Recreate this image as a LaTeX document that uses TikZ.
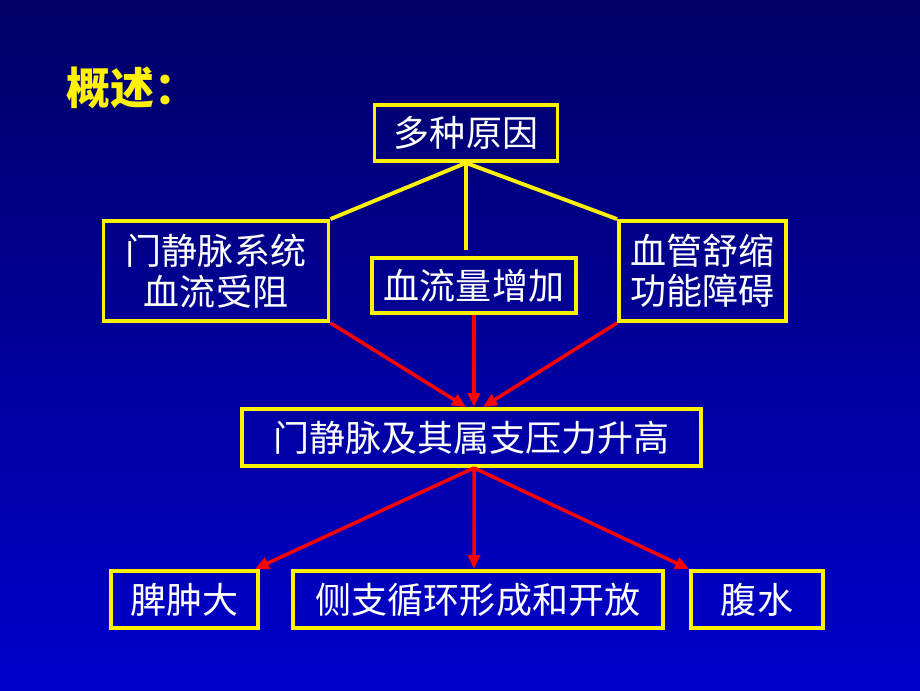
\documentclass[tikz,border=0pt]{standalone}
\usepackage{fontspec}
\newfontfamily\cjk{Noto Sans CJK SC}
\usepackage{tikz}
\usetikzlibrary{arrows.meta,positioning}
\definecolor{slidetop}{RGB}{0,0,102}
\definecolor{slidebottom}{RGB}{0,0,204}

\begin{document}
\begin{tikzpicture}[
            box/.style={rectangle, draw=yellow, line width=2.2pt, text=white,
            align=center, inner sep=0pt, font=\cjk\fontsize{20.5}{23}\selectfont},
            link/.style={yellow, line width=2.2pt},
            push/.style={red, line width=2pt, -{Triangle[length=0.28cm,width=0.24cm]}}]
            \fill[top color=slidetop, bottom color=slidebottom] (0,0) rectangle (18.4,13.8);
            \useasboundingbox (0,0) rectangle (18.4,13.8);

            \node (title) [anchor=west, text=yellow, font=\cjk\bfseries\fontsize{25}{28}\selectfont] at (1.2,12.04) {概述：};

            \node (cause) [box, minimum width=3.66cm, minimum height=1.12cm] at (9.32,11.14) {多种原因};
            \node (block) [box, minimum width=4.5cm, minimum height=2cm] at (4.32,8.38) {门静脉系统\\血流受阻};
            \node (flow) [box, minimum width=4.08cm, minimum height=1.1cm] at (9.48,8.09) {血流量增加};
            \node (disorder) [box, minimum width=3.34cm, minimum height=2cm] at (14.05,8.38) {血管舒缩\\功能障碍};
            \node (pressure) [box, minimum width=9.18cm, minimum height=1.14cm] at (9.43,5.05) {门静脉及其属支压力升高};
            \node (spleen) [box, minimum width=2.94cm, minimum height=1.14cm] at (3.69,1.81) {脾肿大};
            \node (collateral) [box, minimum width=7.4cm, minimum height=1.14cm] at (9.56,1.81) {侧支循环形成和开放};
            \node (ascites) [box, minimum width=2.64cm, minimum height=1.14cm] at (15.14,1.81) {腹水};

            \coordinate (flowtop) at (9.32,8.8);
            \draw[link] (cause.south) -- (block.north east);
            \draw[link] (cause.south) -- (flowtop);
            \draw[link] (cause.south) -- (disorder.north west);

            \draw[push] (block.south east) -- ([xshift=-0.11cm]pressure.north);
            \draw[push] (flow.south) -- ([xshift=0.05cm]pressure.north);
            \draw[push] (disorder.south west) -- ([xshift=0.23cm]pressure.north);

            \draw[push] ([xshift=0.05cm]pressure.south) -- ([xshift=-0.1cm]spleen.north east);
            \draw[push] ([xshift=0.05cm]pressure.south) -- ([xshift=-0.08cm]collateral.north);
            \draw[push] ([xshift=0.05cm]pressure.south) -- (ascites.north west);
        \end{tikzpicture}
\end{document}
